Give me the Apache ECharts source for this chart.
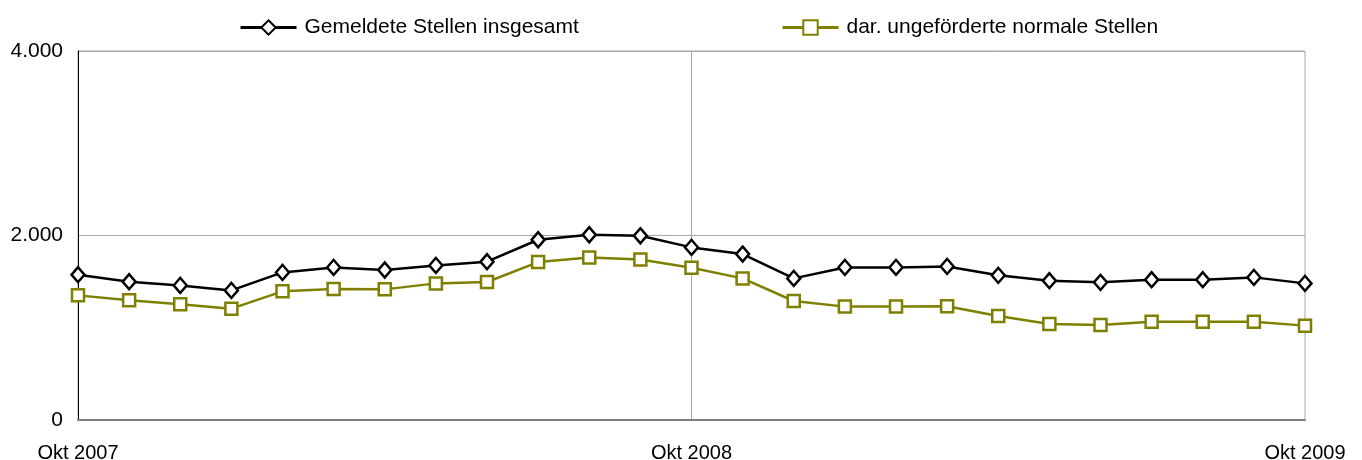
<!DOCTYPE html>
<html>
<head>
<meta charset="utf-8">
<script src="https://cdn.jsdelivr.net/npm/echarts@6/dist/echarts.min.js"></script>
<style>
  html, body { margin: 0; padding: 0; background: #fff; }
  #chart { width: 1362px; height: 460px; }
</style>
</head>
<body>
<div id="chart"></div>
<script>
// Monate Okt 2007 .. Okt 2009
var months = ['Okt 2007','Nov 2007','Dez 2007','Jan 2008','Feb 2008','Mrz 2008','Apr 2008','Mai 2008','Jun 2008','Jul 2008','Aug 2008','Sep 2008',
              'Okt 2008','Nov 2008','Dez 2008','Jan 2009','Feb 2009','Mrz 2009','Apr 2009','Mai 2009','Jun 2009','Jul 2009','Aug 2009','Sep 2009','Okt 2009'];
var labelMonths = ['Okt 2007', 'Okt 2008', 'Okt 2009'];

var gesamt = [1575, 1499, 1459, 1405, 1600, 1654, 1626, 1676, 1716, 1954, 2008, 1997,
              1871, 1799, 1535, 1654, 1654, 1665, 1568, 1510, 1492, 1521, 1521, 1546, 1481];
var ungefoerdert = [1351, 1297, 1254, 1207, 1395, 1420, 1416, 1481, 1496, 1712, 1762, 1741,
                    1651, 1535, 1290, 1229, 1229, 1232, 1128, 1041, 1031, 1066, 1066, 1066, 1023];

var yTicks = { min: 0, max: 4000, step: 2000 };

var nameGesamt = 'Gemeldete Stellen insgesamt';
var nameUngef = 'dar. ungeförderte normale Stellen';
var font = 'Arial, "Liberation Sans", sans-serif';

var chart = echarts.init(document.getElementById('chart'));

function fmtNum(v) {
    return String(v).replace(/\B(?=(\d{3})+(?!\d))/g, '.');
}

var legendBase = {
    top: 12,
    itemWidth: 56,
    itemHeight: 18,
    lineStyle: { width: 3 },
    textStyle: { fontSize: 21, color: '#000', fontFamily: font, padding: [0, 0, 0, 3] }
};

var option = {
    animation: false,
    backgroundColor: '#fff',
    legend: [
        Object.assign({}, legendBase, { left: 234, data: [nameGesamt] }),
        Object.assign({}, legendBase, { left: 776, data: [nameUngef] })
    ],
    grid: {
        left: 78,
        right: 57,
        top: 51,
        bottom: 40,
        outerBoundsMode: 'none',
        show: true,
        borderColor: '#a6a6a6',
        borderWidth: 1
    },
    xAxis: {
        type: 'category',
        boundaryGap: false,
        data: months,
        axisLine: { show: true, lineStyle: { color: '#808080', width: 2 } },
        axisTick: { show: false },
        axisLabel: {
            interval: 0,
            margin: 23,
            fontSize: 20,
            color: '#000',
            fontFamily: font,
            formatter: function (v) { return labelMonths.indexOf(v) >= 0 ? v : ''; }
        },
        splitLine: {
            show: true,
            interval: function (idx) { return idx === 12; },
            lineStyle: { color: '#a6a6a6', width: 1 }
        }
    },
    yAxis: {
        type: 'value',
        min: yTicks.min,
        max: yTicks.max,
        interval: yTicks.step,
        axisLine: { show: true, lineStyle: { color: '#000', width: 1 } },
        axisTick: { show: false },
        axisLabel: {
            margin: 15,
            fontSize: 21,
            color: '#000',
            fontFamily: font,
            formatter: fmtNum
        },
        splitLine: { show: true, lineStyle: { color: '#a6a6a6', width: 1 } }
    },
    series: [
        {
            name: nameGesamt,
            type: 'line',
            data: gesamt,
            symbol: 'diamond',
            symbolSize: [13, 15],
            showAllSymbol: true,
            lineStyle: { color: '#000', width: 2.5 },
            itemStyle: { color: '#fff', borderColor: '#000', borderWidth: 2.5 },
            z: 3
        },
        {
            name: nameUngef,
            type: 'line',
            data: ungefoerdert,
            symbol: 'rect',
            symbolSize: 12,
            showAllSymbol: true,
            lineStyle: { color: '#808000', width: 2.5 },
            itemStyle: { color: '#fff', borderColor: '#808000', borderWidth: 2.5 },
            z: 2
        }
    ]
};

chart.setOption(option);
</script>
</body>
</html>
